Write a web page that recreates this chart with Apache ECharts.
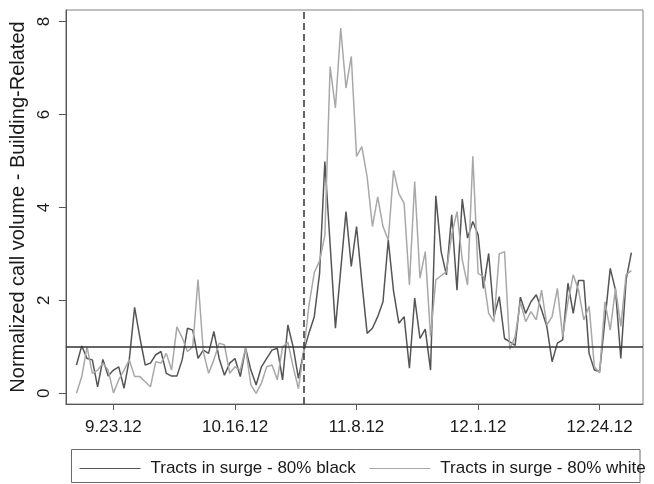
<!DOCTYPE html>
<html>
<head>
<meta charset="utf-8">
<script src="https://cdn.jsdelivr.net/npm/echarts@6/dist/echarts.min.js"></script>
<style>
  html, body { margin: 0; padding: 0; background: #fff; }
  #chart { width: 654px; height: 484px; }
</style>
</head>
<body>
<div id="chart"></div>
<script>
// Daily observations, 16 Sep – 30 Dec 2012
const dates = [
  '2012-09-16','2012-09-17','2012-09-18','2012-09-19','2012-09-20','2012-09-21','2012-09-22','2012-09-23',
  '2012-09-24','2012-09-25','2012-09-26','2012-09-27','2012-09-28','2012-09-29','2012-09-30',
  '2012-10-01','2012-10-02','2012-10-03','2012-10-04','2012-10-05','2012-10-06','2012-10-07','2012-10-08',
  '2012-10-09','2012-10-10','2012-10-11','2012-10-12','2012-10-13','2012-10-14','2012-10-15','2012-10-16',
  '2012-10-17','2012-10-18','2012-10-19','2012-10-20','2012-10-21','2012-10-22','2012-10-23','2012-10-24',
  '2012-10-25','2012-10-26','2012-10-27','2012-10-28','2012-10-29','2012-10-30','2012-10-31',
  '2012-11-01','2012-11-02','2012-11-03','2012-11-04','2012-11-05','2012-11-06','2012-11-07','2012-11-08',
  '2012-11-09','2012-11-10','2012-11-11','2012-11-12','2012-11-13','2012-11-14','2012-11-15','2012-11-16',
  '2012-11-17','2012-11-18','2012-11-19','2012-11-20','2012-11-21','2012-11-22','2012-11-23','2012-11-24',
  '2012-11-25','2012-11-26','2012-11-27','2012-11-28','2012-11-29','2012-11-30',
  '2012-12-01','2012-12-02','2012-12-03','2012-12-04','2012-12-05','2012-12-06','2012-12-07','2012-12-08',
  '2012-12-09','2012-12-10','2012-12-11','2012-12-12','2012-12-13','2012-12-14','2012-12-15','2012-12-16',
  '2012-12-17','2012-12-18','2012-12-19','2012-12-20','2012-12-21','2012-12-22','2012-12-23','2012-12-24',
  '2012-12-25','2012-12-26','2012-12-27','2012-12-28','2012-12-29','2012-12-30'
];

// Normalized building-related call volume, tracts in surge zone, 80% black
const black80 = [
  0.61,1.02,0.75,0.72,0.14,0.73,0.37,0.5,
  0.57,0.11,0.73,1.85,1.2,0.61,0.65,0.83,0.9,0.43,
  0.37,0.37,0.72,1.4,1.36,0.75,0.93,0.86,1.33,0.75,
  0.39,0.65,0.75,0.36,0.97,0.5,0.18,0.57,0.75,0.93,
  0.97,0.29,1.47,1.0,0.32,0.9,1.3,1.65,2.58,4.99,
  3.2,1.4,2.65,3.91,2.73,3.59,2.4,1.29,1.4,1.65,
  1.97,3.3,2.2,1.51,1.65,0.54,2.05,1.18,1.38,0.5,
  4.25,3.05,2.55,3.84,2.22,4.18,3.34,3.7,3.41,2.26,
  3.01,1.65,2.08,1.18,1.11,1.03,2.07,1.72,1.97,2.12,
  1.8,1.44,0.68,1.08,1.15,2.37,1.72,2.43,2.43,0.86,
  0.5,0.47,1.58,2.69,2.22,0.75,2.44,3.03
];

// Same measure, tracts in surge zone, 80% white
const white80 = [
  0.0,0.36,1.0,0.43,0.5,0.65,0.5,0.01,
  0.29,0.5,0.72,0.36,0.36,0.25,0.14,0.68,0.65,0.86,
  0.5,1.43,1.2,0.9,1.0,2.45,0.9,0.43,0.72,1.08,
  1.04,0.43,0.57,0.5,0.97,0.18,0.0,0.22,0.57,0.61,
  0.29,1.0,1.1,0.57,0.1,0.9,1.9,2.6,2.85,3.4,
  7.03,6.14,7.86,6.57,7.25,5.1,5.31,4.66,3.59,4.23,
  3.59,3.3,4.8,4.3,4.09,2.33,4.56,2.48,3.05,1.22,
  2.44,2.53,2.62,3.41,3.91,2.87,2.33,5.1,2.58,2.51,
  1.72,1.54,3.0,3.05,0.95,1.22,1.97,1.54,1.76,1.58,
  2.22,1.47,1.65,2.26,1.22,1.97,2.55,2.22,1.58,1.87,
  0.57,0.44,1.97,1.36,2.26,1.44,2.55,2.64
];

const tickDates = ['2012-09-23','2012-10-16','2012-11-08','2012-12-01','2012-12-24'];
const tickLabels = ['9.23.12','10.16.12','11.8.12','12.1.12','12.24.12'];
const yTicks = [0, 2, 4, 6, 8];
const landfallDate = '2012-10-29';
const baselineLevel = 1;

// x axis runs in whole days counted from the first labelled date
const DAY = 86400000;
const ts = s => { const [y, m, d] = s.split('-').map(Number); return Date.UTC(y, m - 1, d); };
const origin = ts(tickDates[0]);
const dayOf = s => Math.round((ts(s) - origin) / DAY);
const tickDays = tickDates.map(dayOf);
const FONT = "'Liberation Sans', Arial, sans-serif";

const chart = echarts.init(document.getElementById('chart'), null, { renderer: 'canvas' });
chart.setOption({
  animation: false,
  backgroundColor: '#fff',
  textStyle: { fontFamily: FONT },
  grid: {
    left: 65, right: 11, top: 10, bottom: 80,
    show: true, borderColor: '#808080', borderWidth: 1
  },
  xAxis: {
    type: 'value',
    min: -9.0,
    max: 100.2,
    axisLine: { show: true, onZero: false, lineStyle: { color: '#555', width: 1 } },
    axisTick: { show: true, customValues: tickDays, length: 6, lineStyle: { color: '#555' } },
    axisLabel: {
      customValues: tickDays,
      formatter: v => tickLabels[tickDays.indexOf(Math.round(v))] || '',
      fontSize: 17, color: '#1a1a1a', margin: 15, fontFamily: FONT
    },
    splitLine: { show: false }
  },
  yAxis: {
    type: 'value',
    min: -0.23, max: 8.25,
    name: 'Normalized call volume - Building-Related',
    nameLocation: 'middle',
    nameGap: 26,
    nameTextStyle: { fontSize: 20, color: '#1a1a1a', fontFamily: FONT },
    axisLine: { show: true, onZero: false, lineStyle: { color: '#555', width: 1 } },
    axisTick: { show: true, customValues: yTicks, length: 7, lineStyle: { color: '#555' } },
    axisLabel: { customValues: yTicks, rotate: 90, fontSize: 17, color: '#1a1a1a', margin: 13, fontFamily: FONT },
    splitLine: { show: false }
  },
  legend: {
    left: 79, top: 460, width: 600, padding: 0,
    itemWidth: 61, itemHeight: 14, itemGap: 13,
    itemStyle: { opacity: 0 },
    lineStyle: { width: 1 },
    textStyle: { fontSize: 17, color: '#1a1a1a', fontFamily: FONT, padding: [0, 0, 0, 5] },
    data: ['Tracts in surge - 80% black', 'Tracts in surge - 80% white']
  },
  graphic: [{
    type: 'rect',
    shape: { x: 71.5, y: 449.5, width: 568.5, height: 33 },
    style: { fill: 'none', stroke: '#6a6a6a', lineWidth: 1 },
    silent: true
  }],
  series: [
    {
      name: 'Tracts in surge - 80% black',
      type: 'line',
      data: dates.map((d, i) => [dayOf(d), black80[i]]),
      symbol: 'none',
      lineStyle: { color: '#555555', width: 1.5 },
      itemStyle: { color: '#555555' },
      z: 2
    },
    {
      name: 'Tracts in surge - 80% white',
      type: 'line',
      data: dates.map((d, i) => [dayOf(d), white80[i]]),
      symbol: 'none',
      lineStyle: { color: '#a8a8a8', width: 1.5 },
      itemStyle: { color: '#a8a8a8' },
      z: 3,
      markLine: {
        silent: true,
        symbol: 'none',
        label: { show: false },
        data: [
          { yAxis: baselineLevel, lineStyle: { type: 'solid', color: '#333', width: 1.5 } },
          { xAxis: dayOf(landfallDate), lineStyle: { type: [7, 4], color: '#333', width: 1.5 } }
        ]
      }
    }
  ]
});
</script>
</body>
</html>
